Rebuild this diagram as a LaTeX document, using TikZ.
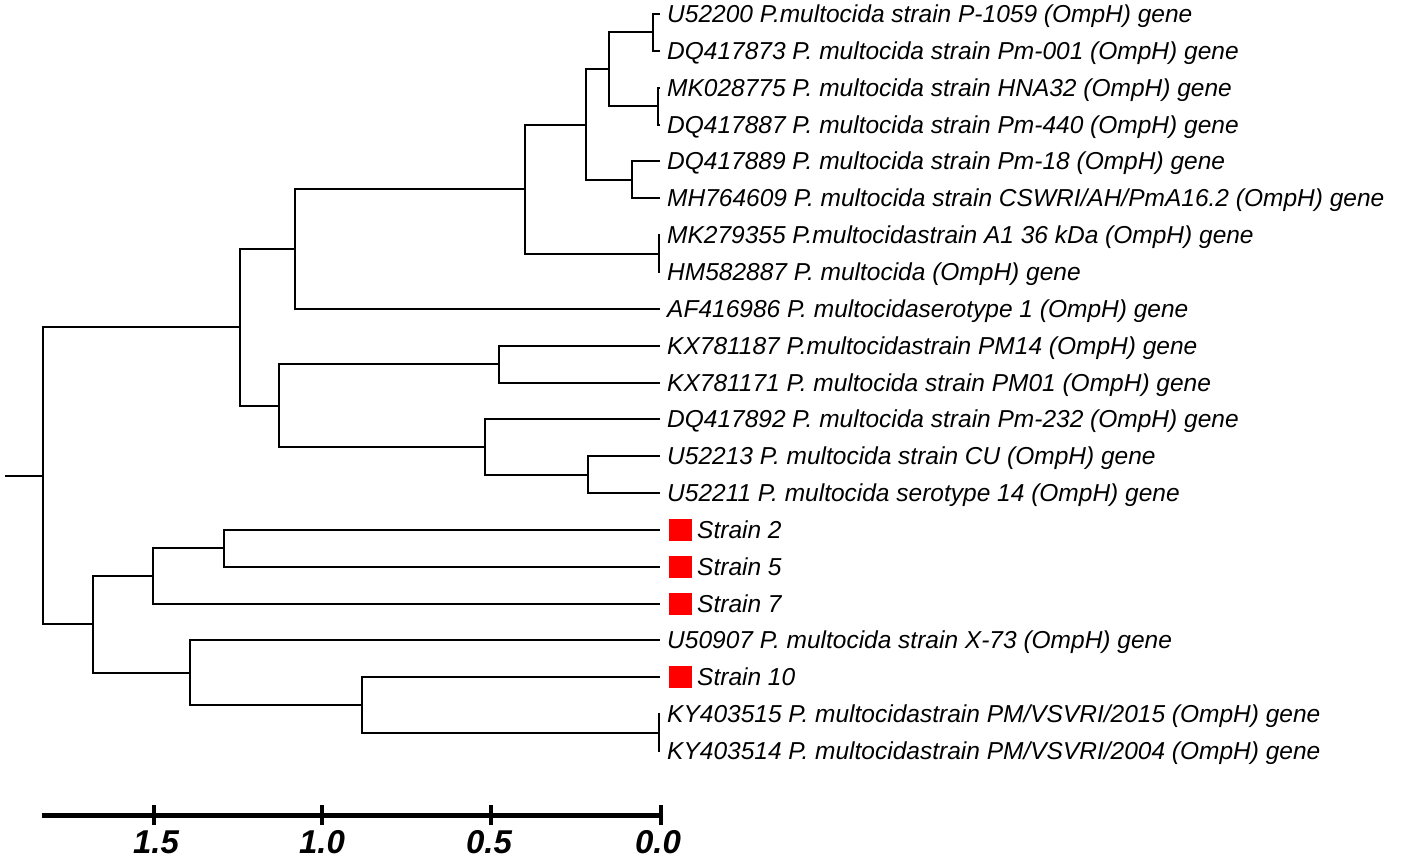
\documentclass[tikz,border=0pt]{standalone}
\usepackage{fontspec}
\setmainfont{Liberation Sans}
\begin{document}
\begin{tikzpicture}[x=1pt,y=-1pt,
  br/.style={line width=2pt},
  lab/.style={anchor=base west, inner sep=0pt, font=\fontsize{24.5}{28}\selectfont\itshape},
  sq/.style={fill=red, draw=none, minimum width=23pt, minimum height=22pt, inner sep=0pt},
  scl/.style={line width=5pt},
  tick/.style={line width=4pt},
  num/.style={font=\fontsize{33}{38}\selectfont\bfseries\itshape, inner sep=0pt, anchor=base}]
\useasboundingbox (0,0) rectangle (1418,860);
% leaf end points
\foreach \i/\y in {1/14,2/50.85,3/87.7,4/124.55,5/161.4,6/198.25,7/235.1,8/271.95,9/308.8,10/345.65,11/382.5,12/419.35,13/456.2,14/493.05,15/529.9,16/566.75,17/603.6,18/640.45,19/677.3,20/714.15,21/751}
  {\coordinate (l\i) at (660,\y);}
% labels
\node[lab] (t1) at (667,22.5) {U52200 P.multocida strain P-1059 (OmpH) gene};
\node[lab] (t2) at (667,59.35) {DQ417873 P. multocida strain Pm-001 (OmpH) gene};
\node[lab] (t3) at (667,96.2) {MK028775 P. multocida strain HNA32 (OmpH) gene};
\node[lab] (t4) at (667,133.05) {DQ417887 P. multocida strain Pm-440 (OmpH) gene};
\node[lab] (t5) at (667,169.9) {DQ417889 P. multocida strain Pm-18 (OmpH) gene};
\node[lab] (t6) at (667,206.75) {MH764609 P. multocida strain CSWRI/AH/PmA16.2 (OmpH) gene};
\node[lab] (t7) at (667,243.6) {MK279355 P.multocidastrain A1 36 kDa (OmpH) gene};
\node[lab] (t8) at (667,280.45) {HM582887 P. multocida (OmpH) gene};
\node[lab] (t9) at (667,317.3) {AF416986 P. multocidaserotype 1 (OmpH) gene};
\node[lab] (t10) at (667,354.15) {KX781187 P.multocidastrain PM14 (OmpH) gene};
\node[lab] (t11) at (667,391) {KX781171 P. multocida strain PM01 (OmpH) gene};
\node[lab] (t12) at (667,427.85) {DQ417892 P. multocida strain Pm-232 (OmpH) gene};
\node[lab] (t13) at (667,464.7) {U52213 P. multocida strain CU (OmpH) gene};
\node[lab] (t14) at (667,501.55) {U52211 P. multocida serotype 14 (OmpH) gene};
\node[sq] (s15) at (680.5,529.9) {};
\node[lab] (t15) at (697,538.4) {Strain 2};
\node[sq] (s16) at (680.5,566.75) {};
\node[lab] (t16) at (697,575.25) {Strain 5};
\node[sq] (s17) at (680.5,603.6) {};
\node[lab] (t17) at (697,612.1) {Strain 7};
\node[lab] (t18) at (667,648.95) {U50907 P. multocida strain X-73 (OmpH) gene};
\node[sq] (s19) at (680.5,677.3) {};
\node[lab] (t19) at (697,685.8) {Strain 10};
\node[lab] (t20) at (667,722.65) {KY403515 P. multocidastrain PM/VSVRI/2015 (OmpH) gene};
\node[lab] (t21) at (667,759.5) {KY403514 P. multocidastrain PM/VSVRI/2004 (OmpH) gene};
% internal nodes
\coordinate (A) at (653,32.4);
\coordinate (B) at (658,106.1);
\coordinate (AB) at (609,69.3);
\coordinate (C) at (632,179.8);
\coordinate (ABC) at (586,124.5);
\coordinate (D) at (659,253.5);
\coordinate (ABCD) at (525,189);
\coordinate (E) at (295,248.9);
\coordinate (G) at (499,364.1);
\coordinate (I) at (588,474.6);
\coordinate (H) at (485,447);
\coordinate (GH) at (279,405.5);
\coordinate (F) at (240,327.2);
\coordinate (J) at (224,548.3);
\coordinate (K) at (153,576);
\coordinate (L) at (659,732.6);
\coordinate (M) at (362,705);
\coordinate (N) at (190,672.7);
\coordinate (O) at (93,624.4);
\coordinate (R) at (43,475.8);
\coordinate (stub) at (5,475.8);
% branches
\draw[br] (l1) -| (A) |- (l2);
\draw[br] (l3) -| (B) |- (l4);
\draw[br] (A) -| (AB) |- (B);
\draw[br] (l5) -| (C) |- (l6);
\draw[br] (AB) -| (ABC) |- (C);
\draw[br] (l7) -| (D) |- (l8);
\draw[br] (ABC) -| (ABCD) |- (D);
\draw[br] (ABCD) -| (E) |- (l9);
\draw[br] (l10) -| (G) |- (l11);
\draw[br] (l13) -| (I) |- (l14);
\draw[br] (l12) -| (H) |- (I);
\draw[br] (G) -| (GH) |- (H);
\draw[br] (E) -| (F) |- (GH);
\draw[br] (l15) -| (J) |- (l16);
\draw[br] (J) -| (K) |- (l17);
\draw[br] (l20) -| (L) |- (l21);
\draw[br] (l19) -| (M) |- (L);
\draw[br] (l18) -| (N) |- (M);
\draw[br] (K) -| (O) |- (N);
\draw[br] (F) -| (R) |- (O);
\draw[br] (stub) -- (R);
% scale bar
\coordinate (s0) at (661,815);
\coordinate (s05) at (491,815);
\coordinate (s10) at (322,815);
\coordinate (s15) at (154,815);
\coordinate (sL) at (42,815);
\draw[scl] (sL) -- (s0);
\foreach \p in {s0,s05,s10,s15} \draw[tick] ([yshift=-10pt]\p) -- ([yshift=10pt]\p);
\node[num] (n15) at (156,853) {1.5};
\node[num] (n10) at (322,853) {1.0};
\node[num] (n05) at (489,853) {0.5};
\node[num] (n00) at (658,853) {0.0};
\end{tikzpicture}
\end{document}
